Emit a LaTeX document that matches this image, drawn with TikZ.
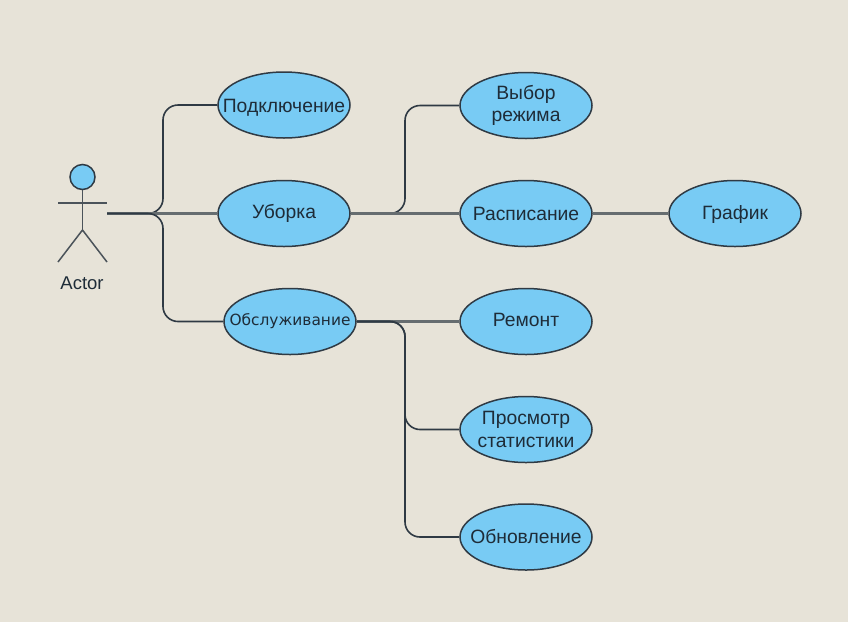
\documentclass[tikz,border=0pt]{standalone}
\usepackage{fontspec}
\setmainfont{Liberation Sans}
\newfontfamily\widefont{DejaVu Sans}
\definecolor{bgc}{HTML}{E7E3D8}
\definecolor{fillc}{HTML}{78CBF4}
\definecolor{linec}{HTML}{2F3A44}
\definecolor{textc}{HTML}{1E2C38}
\usetikzlibrary{shapes.geometric}
\tikzset{
  usecase/.style={ellipse,draw=linec,line width=1.5pt,fill=fillc,minimum width=132pt,minimum height=66pt,inner sep=-20pt,align=center,text=textc,font=\fontsize{19.3}{22.5}\selectfont},
  link/.style={draw=linec,line width=1.6pt,rounded corners=15pt},
  straightlink/.style={draw=linec!70!bgc,line width=2.05pt},
  limb/.style={draw=linec!85!bgc,line width=1.5pt}
}
\begin{document}
\begin{tikzpicture}[x=1pt,y=-1pt]
\useasboundingbox[fill=bgc] (0,0) rectangle (848,622);
% actor
\node[circle,draw=linec,line width=1.5pt,fill=fillc,minimum size=25pt,inner sep=0pt] (head) at (82.5,177) {};
\coordinate (hip) at (82.5,230);
\coordinate (armL) at (58,203);
\coordinate (armR) at (107,203);
\coordinate (legL) at (58,262);
\coordinate (legR) at (107,262);
\coordinate (out) at (107,213.5);
\draw[limb] (head.south) -- (hip);
\draw[limb] (armL) -- (armR);
\draw[limb] (legL) -- (hip) -- (legR);
\node[text=textc,font=\fontsize{18.5}{20}\selectfont,inner sep=0pt] (actor) at (82,283) {Actor};
% use cases
\node[usecase] (a) at (284,105) {\raisebox{-7pt}[0pt][0pt]{Подключение}};
\node[usecase] (b) at (284,213.5) {Уборка};
\node[usecase] (c) at (290,321.5) {\widefont\fontsize{15.4}{18}\selectfont Обслуживание};
\node[usecase] (d) at (526,105.5) {Выбор\\режима};
\node[usecase] (e) at (526,213.5) {Расписание};
\node[usecase] (f) at (735,213.5) {\raisebox{-6pt}[0pt][0pt]{График}};
\node[usecase] (g) at (526,321.5) {\raisebox{-4.5pt}[0pt][0pt]{Ремонт}};
\node[usecase] (h) at (526,429.5) {Просмотр\\статистики};
\node[usecase] (i) at (526,537) {Обновление};
% connectors
\path[link] (out) -- (163,213.5) -- (163,105) -- (a.west);
\path[straightlink] (out) -- (b.west);
\path[link] (out) -- (163,213.5) -- (163,321.5) -- (c.west);
\path[link] (b.east) -- (405,213.5) -- (405,105.5) -- (d.west);
\path[straightlink] (b.east) -- (e.west);
\path[straightlink] (e.east) -- (f.west);
\path[straightlink] (c.east) -- (g.west);
\path[link] (c.east) -- (405,321.5) -- (405,429.5) -- (h.west);
\path[link] (c.east) -- (405,321.5) -- (405,537) -- (i.west);
\end{tikzpicture}
\end{document}
